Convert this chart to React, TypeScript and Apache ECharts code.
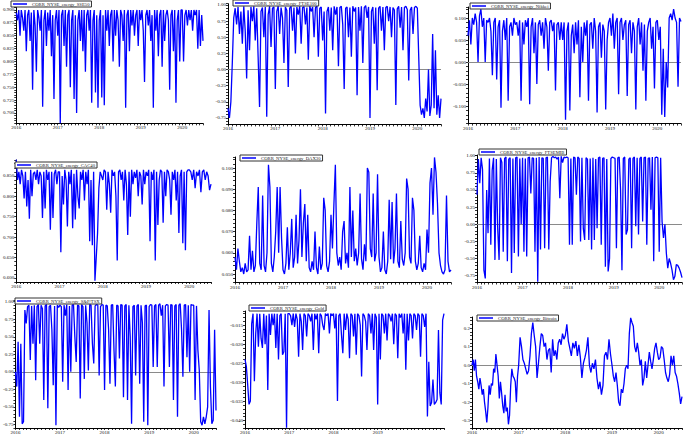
import React, { useEffect, useRef } from "react";
import * as echarts from "echarts";

// ---------- data (one chunk per calendar year, last chunk = first half of 2020) ----------
const years = [2016, 2017, 2018, 2019, 2020];

const names = [
  "CORR_NYSE_energy_SSE50",
  "CORR_NYSE_energy_FTSE100",
  "CORR_NYSE_energy_Nikkei",
  "CORR_NYSE_energy_CAC40",
  "CORR_NYSE_energy_DAX30",
  "CORR_NYSE_energy_FTSEMIB",
  "CORR_NYSE_energy_S&P/TSX",
  "CORR_NYSE_energy_Gold",
  "CORR_NYSE_energy_Bitcoin",
];

const sse50 = [
  [.895,.88,.90,.85,.90,.885,.86,.90,.82,.89,.90,.84,.895,.745,.90,.87,.78,.90,.885,.86,.90,.712,.88,.90,.83,.895,.86,.90,.81,.89,.727,.88,.90],
  [.85,.90,.68,.89,.90,.83,.90,.79,.89,.90,.75,.88,.90,.727,.89,.70,.88,.90,.84,.90,.82,.90,.78,.89,.90,.86,.90,.72,.88,.90,.74,.89,.71],
  [.88,.90,.73,.89,.715,.90,.86,.90,.83,.89,.90,.80,.90,.85,.90,.88,.79,.90,.89,.84,.90,.71,.89,.90,.82,.90,.87,.90,.85,.89,.90,.83,.90],
  [.88,.90,.86,.76,.89,.90,.87,.90,.84,.89,.71,.90,.86,.90,.81,.89,.90,.79,.90,.84,.89,.90,.88,.745,.89,.90,.82,.90,.72,.88,.90,.80,.90],
  [.90,.80,.89,.90,.87,.90,.88,.90,.86,.90,.89,.90,.825,.90,.83,.89,.84],
];

const ftse100 = [
  [-0.60,-0.75,-0.50,0.10,0.80,0.95,0.70,0.97,0.55,0.90,0.40,0.98,0.60,-0.14,0.92,0.30,0.97,0.75,0.98,0.45,0.95,0.20,-0.58,0.90,0.96,0.50,0.97,-0.73,0.85,0.98,0.35,0.95,0.97],
  [-0.30,0.90,0.98,0.55,0.96,0.80,0.10,0.97,0.92,-0.27,0.95,0.98,0.60,0.96,0.25,0.97,0.85,0.98,0.40,0.96,0.97,0.70,0.96,0.15,0.98,0.90,0.97,0.50,0.96,0.98,0.20,0.95,0.97],
  [0.45,0.90,-0.68,0.90,0.97,0.60,0.96,0.30,0.98,0.85,0.97,0.05,0.96,0.98,0.70,-0.30,0.95,0.97,0.50,0.96,0.20,0.98,0.90,0.96,-0.40,0.97,0.60,0.98,0.10,0.96,0.99,0.80,0.97],
  [-0.75,0.90,0.97,0.40,0.96,-0.32,0.95,0.98,0.60,0.97,0.30,0.96,0.98,0.75,0.97,0.50,0.96,0.92,-0.55,0.94,0.98,0.65,0.97,0.30,0.96,0.98,0.93,-0.17,0.92,0.97,0.55,0.96,0.98],
  [0.95,0.20,-0.55,-0.70,-0.60,-0.75,-0.45,-0.65,0.00,-0.72,-0.55,0.55,-0.60,0.30,-0.70,-0.40,-0.75,-0.45],
];

const nikkei = [
  [0.06,0.095,0.04,0.10,0.085,0.11,0.09,0.0,0.105,0.12,0.08,0.10,0.0,0.095,0.09,0.10,0.07,-0.03,0.09,0.10,-0.04,0.08,0.095,-0.104,0.07,0.095,0.05,0.10,-0.088,0.08,0.09,0.06,0.10],
  [0.085,0.09,0.06,0.095,-0.088,0.09,0.04,0.095,0.08,0.10,-0.096,0.08,0.10,0.02,0.09,-0.05,0.085,0.095,0.06,0.09,0.03,0.10,0.08,-0.02,0.09,0.095,0.07,0.09,-0.065,0.085,0.09,0.05,0.09],
  [0.05,0.09,-0.131,0.07,0.09,-0.11,0.06,0.085,0.02,0.09,0.04,0.095,-0.08,0.08,0.0,0.09,0.06,0.095,-0.088,0.085,0.09,0.03,0.10,0.07,-0.115,0.08,0.09,0.01,0.085,0.07,-0.108,0.05,0.09],
  [0.10,0.06,0.11,0.03,0.09,0.10,-0.073,0.09,0.10,0.05,0.085,0.095,-0.077,0.085,0.095,0.02,0.09,0.07,-0.108,0.08,0.10,0.04,0.09,-0.02,0.085,-0.088,0.07,0.09,0.10,0.03,0.08,-0.06,0.09],
  [0.095,0.05,0.08,-0.12,0.03,-0.125,0.0,-0.058,0.10,0.11,0.095,0.12,0.10,0.09,-0.056,0.10,0.092],
];

const cac40 = [
  [0.89,0.84,0.86,0.83,0.865,0.85,0.795,0.86,0.775,0.84,0.745,0.865,0.80,0.855,0.86,0.84,0.865,0.83,0.86,0.85,0.747,0.86,0.77,0.865,0.84,0.86,0.718,0.86,0.747,0.855,0.865,0.83,0.86],
  [0.86,0.663,0.85,0.78,0.865,0.84,0.726,0.86,0.83,0.865,0.722,0.855,0.743,0.865,0.80,0.77,0.86,0.84,0.865,0.79,0.86,0.83,0.865,0.69,0.84,0.68,0.86,0.593,0.65,0.71,0.82,0.86,0.85],
  [0.84,0.865,0.86,0.767,0.86,0.83,0.76,0.865,0.85,0.86,0.80,0.643,0.86,0.865,0.84,0.86,0.79,0.865,0.83,0.705,0.86,0.75,0.865,0.83,0.86,0.845,0.865,0.80,0.86,0.85,0.78,0.865,0.83],
  [0.86,0.85,0.865,0.69,0.86,0.84,0.865,0.643,0.86,0.73,0.84,0.865,0.86,0.735,0.86,0.80,0.865,0.86,0.84,0.755,0.86,0.84,0.865,0.79,0.86,0.71,0.85,0.865,0.685,0.86,0.668,0.86,0.865],
  [0.865,0.86,0.84,0.865,0.82,0.86,0.85,0.865,0.81,0.86,0.865,0.84,0.86,0.85,0.815,0.83],
];

const dax30 = [
  [0.058,0.052,0.062,0.056,0.051,0.053,0.050,0.055,0.051,0.052,0.068,0.052,0.061,0.051,0.054,0.074,0.091,0.055,0.052,0.087,0.054,0.051,0.060,0.1015,0.091,0.055,0.051,0.058,0.070,0.091,0.060,0.091,0.067],
  [0.052,0.050,0.055,0.072,0.052,0.060,0.076,0.053,0.058,0.078,0.055,0.066,0.090,0.058,0.074,0.083,0.056,0.078,0.053,0.051,0.056,0.052,0.070,0.053,0.050,0.063,0.052,0.055,0.086,0.080,0.054,0.051,0.056],
  [0.078,0.062,0.083,0.1015,0.060,0.054,0.058,0.052,0.070,0.075,0.055,0.060,0.053,0.091,0.058,0.080,0.056,0.062,0.054,0.060,0.088,0.057,0.052,0.064,0.056,0.100,0.098,0.062,0.058,0.088,0.056,0.060,0.097],
  [0.058,0.051,0.053,0.070,0.052,0.050,0.056,0.085,0.057,0.084,0.055,0.062,0.088,0.056,0.053,0.075,0.057,0.054,0.060,0.095,0.090,0.058,0.055,0.086,0.080,0.056,0.052,0.055,0.068,0.053,0.051,0.055,0.052],
  [0.071,0.060,0.093,0.100,0.078,0.105,0.098,0.083,0.060,0.054,0.051,0.050,0.052,0.087,0.056,0.051,0.052],
];

const ftsemib = [
  [0.43,0.95,0.60,0.97,0.80,-0.67,-0.79,0.50,-0.13,0.96,-0.30,0.79,0.97,-0.52,0.95,-0.06,-0.52,0.97,0.90,-0.40,0.96,0.98,-0.54,0.95,0.97,-0.71,0.96,-0.42,0.97,0.98,-0.47,0.96,0.0],
  [0.97,-0.40,0.96,-0.47,0.97,0.98,0.45,0.97,0.96,-0.40,0.97,-0.84,0.98,-0.37,0.97,0.96,-0.35,0.97,0.98,-0.37,0.62,0.97,0.99,0.97,0.98,0.95,0.98,0.38,0.99,0.90,0.98,0.97,0.98],
  [0.97,-0.30,0.96,-0.30,0.98,0.97,0.43,0.98,0.96,-0.25,0.97,-0.06,-0.23,0.97,0.95,-0.23,0.96,-0.37,0.97,-0.23,0.95,-0.06,0.97,0.98,-0.30,0.96,0.97,-0.62,0.95,-0.69,-0.50,0.96,0.98],
  [0.97,0.96,-0.35,0.97,0.98,0.50,-0.67,0.96,0.98,-0.15,-0.08,0.95,0.97,-0.35,0.96,0.98,-0.03,0.97,-0.15,0.96,0.98,0.04,0.97,0.98,-0.30,0.96,0.97,0.21,0.98,-0.54,0.97,0.98,0.97],
  [-0.40,0.97,0.04,-0.20,0.0,-0.42,-0.64,-0.50,-0.57,-0.67,-0.81,-0.76,-0.59,-0.60,-0.64,-0.70,-0.78],
];

const sptsx = [
  [0.0,-0.21,0.43,-0.64,0.40,-0.74,-0.71,0.88,0.69,0.93,0.95,0.17,0.94,0.40,0.95,-0.12,0.93,0.96,0.40,0.95,0.90,-0.40,0.94,0.96,-0.52,0.93,0.95,0.60,-0.19,0.94,-0.76,0.95,0.92],
  [0.95,0.93,-0.14,0.95,0.80,0.96,-0.26,0.94,0.0,0.95,0.96,0.50,0.14,0.95,0.94,-0.38,0.96,0.93,-0.10,0.95,0.70,0.02,0.96,0.95,0.40,0.12,0.94,0.96,0.95,-0.05,0.93,0.96,0.95],
  [-0.26,0.95,0.94,0.60,-0.17,0.95,0.96,0.30,-0.21,0.95,0.94,0.19,0.96,0.95,-0.36,0.94,0.96,-0.40,0.95,0.50,-0.74,0.93,0.95,-0.05,0.94,0.96,-0.17,0.95,0.70,-0.71,0.94,0.95,-0.76],
  [0.93,0.96,0.95,0.07,0.94,0.96,0.07,0.95,0.97,0.80,0.95,-0.21,0.94,0.96,0.95,0.07,0.96,0.95,-0.40,0.94,0.96,-0.64,0.95,0.97,0.60,-0.07,0.95,0.96,0.21,0.95,0.0,0.96,0.95],
  [0.95,-0.40,0.94,0.31,0.02,-0.71,-0.76,-0.64,-0.74,-0.64,-0.50,0.88,-0.21,-0.74,-0.69,0.60,-0.55],
];

const gold = [
  [-0.024,-0.0258,-0.0306,-0.0358,-0.0349,-0.0146,-0.012,-0.0297,-0.0172,-0.012,-0.0207,-0.012,-0.0185,-0.021,-0.012,-0.020,-0.0125,-0.032,-0.012,-0.0176,-0.012,-0.015,-0.012,-0.021,-0.012,-0.024,-0.0125,-0.012,-0.0228,-0.022,-0.012,-0.0419,-0.012],
  [-0.012,-0.0125,-0.015,-0.012,-0.0155,-0.012,-0.0135,-0.0233,-0.012,-0.014,-0.0215,-0.012,-0.0125,-0.018,-0.012,-0.0125,-0.014,-0.012,-0.0215,-0.012,-0.0135,-0.012,-0.0224,-0.012,-0.0125,-0.015,-0.0163,-0.012,-0.0125,-0.012,-0.0172,-0.012,-0.0125],
  [-0.012,-0.0159,-0.012,-0.0349,-0.0125,-0.012,-0.0176,-0.0224,-0.012,-0.0163,-0.012,-0.0135,-0.0237,-0.012,-0.0125,-0.018,-0.012,-0.0228,-0.012,-0.0125,-0.015,-0.0285,-0.012,-0.0125,-0.014,-0.0215,-0.012,-0.0125,-0.0172,-0.012,-0.0215,-0.012,-0.013],
  [-0.0358,-0.012,-0.024,-0.012,-0.0125,-0.0172,-0.012,-0.019,-0.012,-0.0125,-0.014,-0.012,-0.020,-0.012,-0.0125,-0.0237,-0.012,-0.013,-0.012,-0.0172,-0.012,-0.0267,-0.012,-0.019,-0.012,-0.0125,-0.0185,-0.012,-0.0125,-0.0163,-0.012,-0.0125,-0.0233],
  [-0.012,-0.0125,-0.0155,-0.012,-0.039,-0.0246,-0.0362,-0.0353,-0.0293,-0.0358,-0.0353,-0.0345,-0.0163,-0.0328,-0.0358,-0.0137,-0.012],
];

const bitcoin = [
  [0.0,0.03,-0.03,0.03,-0.06,-0.09,-0.13,-0.07,-0.11,-0.16,-0.13,-0.2,-0.25,-0.31,-0.23,-0.11,-0.16,-0.10,-0.11,-0.02,-0.04,0.06,0.0,-0.06,-0.18,-0.09,-0.15,-0.22,-0.26,-0.16,-0.25,-0.23,-0.32,-0.27,-0.11,-0.02,-0.06,-0.07,-0.09,-0.2,-0.06],
  [0.0,0.15,0.1,0.03,0.01,-0.02,-0.05,-0.03,0.05,0.17,0.23,0.16,0.1,-0.07,0.01,0.1,0.17,0.16,0.1,0.12,0.03,0.08,0.09,-0.04,0.14,0.05,0.08,0.03,0.12,0.14,0.11,0.17,0.14],
  [0.16,0.22,0.13,0.09,0.05,0.12,0.09,0.13,0.05,0.11,0.04,-0.07,0.01,0.04,0.08,0.15,0.0,-0.04,0.01,-0.02,0.03,-0.07,-0.13,-0.09,-0.16,-0.11,0.05,0.07,0.03,0.14,0.06],
  [0.0,-0.06,-0.09,-0.04,-0.11,-0.2,-0.22,-0.13,-0.15,-0.10,-0.02,0.0,-0.02,0.17,0.255,0.23,0.21,0.1,0.07,0.12,0.07,0.0,0.03,-0.11,-0.07,0.02,-0.07,0.0,0.07,0.02,-0.02,0.03,0.09,0.12,0.07],
  [0.03,0.04,0.1,0.09,0.03,-0.04,-0.07,-0.09,-0.05,0.05,0.0,0.05,-0.04,-0.06,-0.10,-0.15,-0.21,-0.17],
];

const panelData = [sse50, ftse100, nikkei, cac40, dax30, ftsemib, sptsx, gold, bitcoin];

// ---------- layout (positions / styles, kept apart from the data) ----------
const layout = [
  { left: 11, top: 7, width: 192, height: 116.3, min: 0.68, max: 0.9058, step: 0.005, major: 0.025, dec: 3, zero: false, lg: [11, 1] },
  { left: 228, top: 3.7, width: 213, height: 120.7, min: -0.85, max: 1.02, step: 0.05, major: 0.25, dec: 2, zero: true, lg: [233, 0] },
  { left: 468, top: 7, width: 213, height: 116.6, min: -0.14, max: 0.125, step: 0.01, major: 0.05, dec: 3, zero: true, lg: [470, 3] },
  { left: 11, top: 160, width: 200, height: 122, min: 0.59, max: 0.889, step: 0.01, major: 0.05, dec: 3, zero: false, lg: [15, 162] },
  { left: 235, top: 157, width: 216, height: 125.5, min: 0.046, max: 0.1052, step: 0.002, major: 0.01, dec: 3, zero: false, lg: [240, 155] },
  { left: 477, top: 155, width: 208, height: 127.5, min: -0.85, max: 1.01, step: 0.05, major: 0.25, dec: 2, zero: true, lg: [479, 149] },
  { left: 11, top: 300, width: 205, height: 128.5, min: -0.8, max: 1.024, step: 0.05, major: 0.25, dec: 2, zero: true, lg: [15, 298] },
  { left: 245, top: 311, width: 199, height: 117.9, min: -0.042, max: -0.0113, step: 0.001, major: 0.005, dec: 3, zero: false, lg: [249, 305], hide2020: true },
  { left: 472, top: 317, width: 212, height: 112.8, min: -0.34, max: 0.26, step: 0.02, major: 0.1, dec: 1, zero: true, lg: [477, 315] },
];

const fontFamily = "'Liberation Serif', 'DejaVu Serif', 'Times New Roman', serif";
const lineBlue = "#0000ff";

function toPoints(chunks: number[][]) {
  const pts: number[][] = [];
  chunks.forEach((chunk, k) => {
    const last = k === chunks.length - 1;
    chunk.forEach((v, i) => {
      const x = last ? years[k] + (i * 0.5) / (chunk.length - 1) : years[k] + i / chunk.length;
      pts.push([x, v]);
    });
  });
  return pts;
}

function isMult(v: number, m: number) {
  const r = v / m;
  return Math.abs(r - Math.round(r)) < 1e-4;
}

export default function App() {
  const ref = useRef<HTMLDivElement>(null);

  useEffect(() => {
    if (!ref.current) return;
    const chart = echarts.init(ref.current, undefined, { renderer: "svg" });

    const grid = layout.map((l) => ({ left: l.left, top: l.top, width: l.width, height: l.height, containLabel: false }));

    const xAxis = layout.map((l, i) => ({
      type: "value",
      gridIndex: i,
      min: 2016,
      max: 2020.5,
      interval: 1 / 12,
      splitLine: { show: false },
      axisLine: { show: true, onZero: false, lineStyle: { color: "#000", width: 1 } },
      axisTick: { show: true, length: 2, lineStyle: { color: "#000", width: 0.8 } },
      axisLabel: {
        show: true,
        interval: 0,
        margin: 2,
        fontSize: 5,
        fontFamily,
        color: "#111",
        showMaxLabel: false,
        formatter: (v: number) => {
          const r = Math.round(v);
          if (Math.abs(v - r) > 0.01) return "";
          if ((l as any).hide2020 && r === 2020) return "";
          return String(r);
        },
      },
    }));

    const yAxis = layout.map((l, i) => ({
      type: "value",
      gridIndex: i,
      min: l.min,
      max: l.max,
      interval: l.step,
      splitLine: { show: false },
      axisLine: { show: true, onZero: false, lineStyle: { color: "#000", width: 1 } },
      axisTick: { show: true, length: 2, lineStyle: { color: "#000", width: 0.8 } },
      axisLabel: {
        show: true,
        margin: 2,
        fontSize: 5,
        fontFamily,
        color: "#111",
        formatter: (v: number) => (isMult(v, l.major) && v <= l.max + 1e-9 && v >= l.min - 1e-9 ? v.toFixed(l.dec) : ""),
      },
    }));

    const series = layout.map((l, i) => ({
      type: "line",
      name: names[i],
      xAxisIndex: i,
      yAxisIndex: i,
      data: toPoints(panelData[i]),
      symbol: "none",
      showSymbol: false,
      lineStyle: { color: lineBlue, width: 1.3 },
      itemStyle: { color: lineBlue },
      clip: true,
      z: 2,
      markLine: l.zero
        ? {
            silent: true,
            symbol: "none",
            label: { show: false },
            lineStyle: { color: "#8a8a8a", type: "solid", width: 1 },
            data: [{ yAxis: 0 }],
            z: 1,
          }
        : undefined,
    }));

    const legend = layout.map((l, i) => ({
      show: true,
      data: [{ name: names[i], icon: "rect" }],
      left: l.lg[0],
      top: l.lg[1],
      orient: "horizontal",
      itemWidth: 14,
      itemHeight: 1.5,
      itemGap: 0,
      padding: [0.5, 2, 0.5, 2],
      borderColor: "#333",
      borderWidth: 1,
      backgroundColor: "#fff",
      selectedMode: false,
      textStyle: { fontSize: 4.7, fontFamily, color: "#222", lineHeight: 5 },
      z: 10,
    }));

    chart.setOption({
      animation: false,
      backgroundColor: "#fff",
      grid,
      xAxis,
      yAxis,
      series,
      legend,
    } as any);

    return () => chart.dispose();
  }, []);

  return (
    <div
      ref={ref}
      style={{ position: "fixed", left: 0, top: 0, width: 685, height: 435, background: "#fff" }}
    />
  );
}
